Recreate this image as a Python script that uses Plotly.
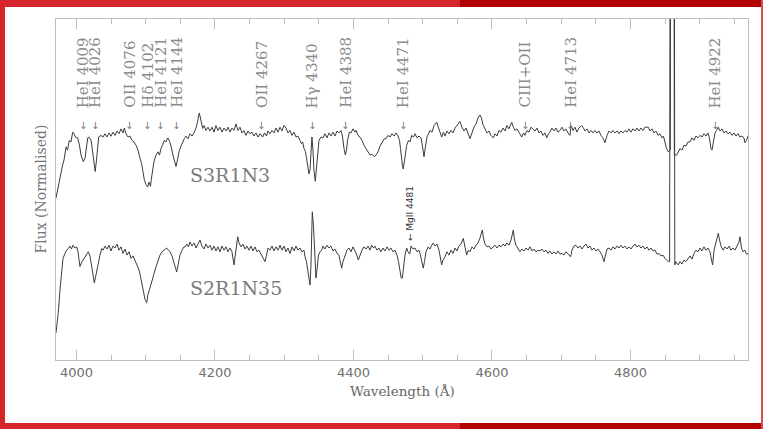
import plotly.graph_objects as go

# ---------------- data ----------------
UPPER_OFFSET = 0.72

upper_wl = [
    3970.4, 3973.3, 3976.2, 3980, 3982, 3985, 3987, 3989.6, 3992, 3994.5,
    3996.4, 3998.5, 4001.7, 4004.3, 4006.5, 4009.8, 4012.3, 4014.4, 4016.2, 4018,
    4021, 4023, 4025.3, 4027, 4028.9, 4030.6, 4032, 4035.4, 4038.3, 4041.2,
    4044, 4047, 4049.8, 4052.7, 4055.6, 4058.5, 4061.4, 4064.3, 4067.2, 4069,
    4071.5, 4074.4, 4077.3, 4080.1, 4083, 4086, 4088.8, 4091.7, 4093.9, 4096,
    4097.9, 4100.4, 4102.8, 4104.7, 4106.9, 4108.3, 4110, 4111.9, 4114.8, 4117.7,
    4119.9, 4122, 4124.2, 4126.8, 4129.2, 4131.7, 4134.3, 4136.5, 4139.3, 4142.2,
    4143.7, 4145.8, 4148, 4150.9, 4153.8, 4155.7, 4158.1, 4161, 4163.9, 4166.8,
    4170.1, 4172.6, 4174.7, 4177.3, 4179, 4180.5, 4182.2, 4184.1, 4187, 4189.9,
    4192.8, 4195.7, 4198.6, 4201.4, 4204.3, 4207.2, 4210.1, 4213, 4215.9, 4218.8,
    4221.7, 4224.5, 4227.4, 4230.3, 4233.2, 4236.1, 4239, 4241.9, 4244.8, 4247.6,
    4250.5, 4253.4, 4256.3, 4259.2, 4262.1, 4265, 4268.9, 4271.5, 4274.4, 4276.5,
    4279.4, 4282.3, 4285.2, 4288.1, 4291, 4293.9, 4296.7, 4299.6, 4302.5, 4305.4,
    4308.3, 4311.2, 4314.1, 4317, 4319.8, 4322.7, 4324.9, 4326.6, 4328.5, 4330.7,
    4332.8, 4334.3, 4335.7, 4337.2, 4338.6, 4340, 4341.5, 4342.9, 4344.8, 4346.3,
    4348, 4350.2, 4353.1, 4356, 4358.8, 4361.7, 4364.6, 4367.5, 4370.4, 4373.3,
    4376.2, 4379, 4381.9, 4384.1, 4386.3, 4388.2, 4389.9, 4391.4, 4394, 4396.4,
    4399.3, 4402.2, 4403.7, 4406.5, 4409.4, 4412.3, 4415.2, 4418.1, 4421, 4423.8,
    4426.7, 4430, 4432.5, 4435.4, 4438.3, 4441.1, 4444.5, 4446.9, 4449.8, 4452.7,
    4455.6, 4458.5, 4461.4, 4464.3, 4466.4, 4467.9, 4469.3, 4470.8, 4471.9, 4473.7,
    4475.1, 4476.8, 4479.4, 4481.6, 4484, 4486.6, 4488.8, 4491.7, 4494.6, 4497.5,
    4499.6, 4501.8, 4504, 4506.1, 4509, 4510.5, 4513.4, 4516.3, 4520.1, 4522.7,
    4524.9, 4527.3, 4529.9, 4532.1, 4535, 4537.9, 4540.8, 4543.7, 4546.6, 4549.4,
    4552.3, 4553.8, 4556.7, 4559.6, 4562.5, 4565.4, 4568.2, 4571.1, 4574, 4576.9,
    4579.8, 4582.7, 4584.8, 4587, 4589.9, 4592.8, 4595.7, 4598.5, 4601.9, 4604.3,
    4607.2, 4610.1, 4613, 4615.9, 4618.8, 4621.6, 4624.5, 4628.4, 4631, 4633.2,
    4636.1, 4639, 4642.9, 4645.5, 4647.6, 4650.5, 4653.4, 4656.3, 4659.6, 4662.1,
    4665, 4667.9, 4670.7, 4673.6, 4676.5, 4679, 4681.6, 4683.7, 4686.6, 4689.5,
    4692.4, 4695.3, 4698.2, 4701.1, 4703.9, 4706.8, 4709.7, 4712.6, 4714, 4716.9,
    4719.8, 4722.7, 4725.5, 4729.5, 4732.1, 4734.3, 4737.2, 4740.1, 4742.9, 4745.8,
    4748.7, 4751.6, 4754.5, 4757.4, 4760.3, 4763.2, 4766.1, 4769, 4771.8, 4774.7,
    4777.6, 4780.5, 4783.4, 4786.3, 4789.1, 4792, 4794.9, 4797.8, 4800.7, 4803.6,
    4806.5, 4809.4, 4812.2, 4815.1, 4818, 4820.9, 4825.7, 4828.1, 4831, 4833.9,
    4836.8, 4839.7, 4842.6, 4845.5, 4847.6, 4849.8, 4852, 4854.5, 4856.3, 4857.5,
    4860.4, 4863.3, 4866.7, 4868.6, 4871.5, 4874.4, 4877.2, 4880.1, 4883, 4885.9,
    4888.8, 4891.7, 4894.6, 4897.4, 4900.3, 4903.2, 4906.1, 4909, 4911.9, 4914,
    4916.2, 4917.7, 4919.8, 4922, 4924.2, 4926.8, 4929.2, 4932.1, 4935, 4937.9,
    4940.8, 4943.7, 4946.5, 4949.4, 4952.3, 4955.2, 4958.1, 4961, 4963.9, 4965.3,
    4967.5, 4970,
]
upper_flux = [
    0.588, 0.65, 0.73, 0.79, 0.82, 0.90, 0.88, 0.94, 0.93, 0.99,
    0.98, 0.96, 0.955, 0.91, 0.85, 0.81, 0.83, 0.91, 0.955, 0.96,
    0.94, 0.88, 0.79, 0.75, 0.82, 0.91, 0.96, 0.97, 0.96, 0.98,
    0.96, 0.985, 0.965, 0.99, 0.97, 0.997, 0.98, 1.01, 0.985, 1.015,
    0.98, 0.96, 0.966, 0.94, 0.93, 0.91, 0.88, 0.83, 0.80, 0.75,
    0.70, 0.67, 0.655, 0.685, 0.66, 0.71, 0.76, 0.81, 0.85, 0.87,
    0.85, 0.89, 0.91, 0.94, 0.93, 0.955, 0.935, 0.905, 0.85, 0.80,
    0.78, 0.82, 0.87, 0.905, 0.94, 0.95, 0.966, 0.95, 0.98, 0.966,
    0.99, 1.015, 1.05, 1.107, 1.076, 1.04, 1.013, 1.03, 1.0, 1.02,
    0.997, 1.02, 0.99, 1.03, 1.0, 1.02, 0.99, 1.015, 0.997, 1.02,
    0.99, 1.015, 1.0, 1.04, 1.0, 1.02, 0.985, 1.0, 0.97, 0.997,
    0.98, 0.99, 0.966, 0.985, 0.96, 0.98, 0.96, 0.985, 0.966, 0.997,
    0.98, 1.0, 0.985, 1.015, 0.99, 1.02, 0.997, 1.03, 1.015, 0.985,
    1.0, 0.97, 0.99, 0.96, 0.966, 0.94, 0.92, 0.93, 0.89, 0.87,
    0.82, 0.77, 0.735, 0.76, 0.88, 0.96, 0.88, 0.76, 0.69, 0.76,
    0.88, 0.94, 0.96, 0.955, 0.98, 0.955, 0.985, 0.966, 0.99, 0.966,
    0.997, 0.985, 1.0, 0.966, 0.89, 0.85, 0.88, 0.94, 0.99, 0.985,
    1.01, 0.99, 1.0, 0.97, 0.96, 0.94, 0.91, 0.89, 0.875, 0.85,
    0.855, 0.84, 0.85, 0.87, 0.905, 0.93, 0.95, 0.95, 0.97, 0.96,
    0.98, 0.966, 0.985, 0.966, 0.94, 0.89, 0.82, 0.78, 0.765, 0.81,
    0.87, 0.91, 0.94, 0.93, 0.97, 0.96, 0.98, 0.955, 0.966, 0.955,
    0.905, 0.84, 0.905, 0.96, 0.985, 1.0, 0.99, 1.03, 1.05, 1.015,
    0.985, 0.96, 0.99, 0.966, 0.997, 0.98, 1.0, 0.985, 1.015, 1.03,
    1.045, 1.055, 1.02, 0.997, 1.015, 0.98, 0.95, 0.985, 1.02, 1.04,
    1.076, 1.095, 1.076, 1.035, 1.01, 0.985, 0.997, 0.97, 0.955, 0.98,
    0.966, 1.0, 0.99, 1.015, 0.997, 1.03, 1.01, 1.05, 1.02, 1.0,
    1.01, 0.985, 0.96, 0.985, 0.97, 1.0, 0.99, 1.02, 1.01, 0.997,
    1.015, 0.985, 0.997, 0.97, 0.985, 0.955, 0.98, 0.99, 1.015, 0.997,
    1.015, 0.99, 1.0, 1.02, 0.997, 1.01, 0.985, 0.97, 1.03, 1.0,
    1.02, 0.99, 1.015, 1.03, 1.015, 0.997, 1.01, 0.985, 1.0, 0.985,
    1.0, 0.985, 0.997, 0.97, 0.955, 0.925, 0.97, 0.997, 0.985, 1.0,
    0.985, 0.997, 0.98, 0.997, 0.985, 1.0, 0.99, 1.01, 0.99, 1.01,
    0.997, 1.015, 0.997, 1.015, 1.0, 1.02, 1.02, 0.997, 1.01, 0.985,
    0.997, 0.97, 0.98, 0.955, 0.966, 0.93, 0.89, 0.87, 0.88, 0.88,
    12.0, 0.85, 0.85, 0.87, 0.89, 0.88, 0.91, 0.905, 0.93, 0.93,
    0.955, 0.94, 0.966, 0.955, 0.97, 0.96, 0.98, 0.966, 0.985, 0.955,
    0.89, 0.88, 0.94, 0.985, 1.0, 1.02, 0.997, 1.01, 0.985, 0.997,
    0.98, 0.99, 0.97, 0.985, 0.966, 0.98, 0.96, 0.966, 0.955, 0.925,
    0.94, 0.97,
]

lower_wl = [
    3970.4, 3971.8, 3973.7, 3976.2, 3978.6, 3980.5, 3983.4, 3985.6, 3988.2, 3990.6,
    3992.8, 3994.9, 3997.8, 4000.3, 4002.2, 4005, 4007.9, 4010.8, 4013.7, 4017,
    4019.5, 4021.7, 4023.8, 4025.7, 4028.2, 4031, 4033.9, 4036.4, 4038.3, 4041.2,
    4044, 4047, 4049.8, 4052.7, 4055.6, 4058.5, 4061.4, 4064.3, 4067.2, 4070.1,
    4073, 4075.8, 4078.7, 4081.6, 4084.5, 4087.4, 4090.3, 4092.4, 4094.6, 4096.7,
    4098.9, 4101.4, 4103.2, 4105.4, 4107.6, 4110.9, 4113.4, 4115.5, 4118.1, 4120.6,
    4123.5, 4126.4, 4130.2, 4132.8, 4135, 4137.9, 4140.8, 4143, 4144.7, 4146.6,
    4149.5, 4152.3, 4155.2, 4156.7, 4159.6, 4161.7, 4163.9, 4166.8, 4169.7, 4172.6,
    4175.4, 4178.3, 4181.2, 4184.1, 4187, 4189.9, 4192.8, 4195.7, 4198.6, 4201.4,
    4204.3, 4207.2, 4210.1, 4213, 4215.9, 4218.8, 4221.7, 4224.5, 4227.4, 4229.6,
    4232.8, 4234.7, 4237.5, 4240.4, 4243.3, 4246.2, 4249.1, 4252, 4254.9, 4257.8,
    4260.6, 4263.5, 4266.4, 4269.3, 4272.2, 4274.4, 4276.5, 4279.4, 4282.3, 4285.2,
    4288.1, 4291, 4293.9, 4296.7, 4299.6, 4302.5, 4305.4, 4308.3, 4311.2, 4314.1,
    4317, 4319.8, 4322.7, 4325.6, 4328.5, 4330, 4332.1, 4334.3, 4335.7, 4337.2,
    4338.6, 4340.5, 4342.2, 4343.7, 4345.1, 4345.8, 4347.3, 4349.5, 4351.6, 4354.1,
    4356, 4358.8, 4361.7, 4364.6, 4367.5, 4370.4, 4373.3, 4376.2, 4379, 4381.2,
    4382.9, 4384.8, 4387.7, 4390.6, 4393.5, 4396.4, 4399.3, 4402.2, 4404.3, 4406.9,
    4409.4, 4412.3, 4415.2, 4418.1, 4421, 4423.8, 4426.3, 4428.9, 4431, 4433.9,
    4436.8, 4439.7, 4442.6, 4445.5, 4448.4, 4451.3, 4454.1, 4457, 4459.9, 4462.8,
    4465, 4467.1, 4468.9, 4470.5, 4472.2, 4474.4, 4476.8, 4478.7, 4481.3, 4483,
    4485.9, 4488.8, 4491.7, 4494.6, 4496.7, 4498.9, 4500.8, 4502.5, 4504.7, 4508,
    4510.5, 4512.9, 4515.2, 4517.7, 4520.6, 4523.5, 4525.6, 4527.3, 4529.2, 4532.1,
    4535, 4537.9, 4540.8, 4543.7, 4546.6, 4549.4, 4552.3, 4555.2, 4558.5, 4561,
    4563.4, 4566, 4568.2, 4571.1, 4574, 4576.9, 4579.8, 4582.7, 4586, 4587.7,
    4589.9, 4592.8, 4595.7, 4598.5, 4601.4, 4604.3, 4607.2, 4610.1, 4613, 4615.9,
    4618.8, 4621.6, 4624.5, 4627.5, 4630.8, 4632.5, 4634.7, 4637.6, 4640.4, 4643.3,
    4646.2, 4649.1, 4652, 4654.9, 4657.8, 4660.6, 4663.5, 4666.4, 4669.3, 4672.2,
    4675.1, 4678, 4680.9, 4683.7, 4686.6, 4689.5, 4692.4, 4695.3, 4698.2, 4701.1,
    4703.9, 4706.8, 4710.4, 4713.6, 4715.5, 4718.4, 4721.3, 4724.2, 4727.1, 4730,
    4732.8, 4735.7, 4738.6, 4741.5, 4744.4, 4747.3, 4750.2, 4753, 4755.9, 4758.8,
    4761.7, 4763.9, 4766.1, 4769, 4771.8, 4774.7, 4777.6, 4780.5, 4783.4, 4786.3,
    4789.1, 4792, 4794.9, 4797.8, 4800.7, 4803.6, 4806.5, 4809.4, 4812.2, 4815.1,
    4818, 4820.9, 4823.8, 4826.7, 4829.6, 4832.5, 4835.4, 4838.3, 4841.1, 4844,
    4846.9, 4849.8, 4852.7, 4854.5, 4856.5, 4860.4, 4864, 4865.3, 4868.9, 4871.5,
    4874.4, 4877.2, 4880.1, 4883, 4885.9, 4888.8, 4891.7, 4894.6, 4897.4, 4900.3,
    4903.2, 4906.1, 4909, 4911.9, 4914.8, 4917, 4918.7, 4920.6, 4923.5, 4926.8,
    4928.6, 4930.7, 4933.6, 4936.5, 4939.4, 4942.3, 4945.1, 4948, 4950.9, 4953.8,
    4956.7, 4958.1, 4960.3, 4962.5, 4965.3, 4967.5, 4970,
]
lower_flux = [
    0.485, 0.53, 0.61, 0.75, 0.89, 0.94, 0.97, 0.99, 1.0, 1.015,
    0.997, 1.02, 1.003, 1.01, 0.98, 0.89, 0.92, 0.94, 0.96, 0.98,
    0.955, 0.90, 0.83, 0.79, 0.84, 0.91, 0.96, 1.0, 0.99, 1.015,
    0.997, 1.02, 0.985, 1.015, 1.003, 1.027, 0.99, 1.01, 0.97, 0.997,
    0.96, 0.98, 0.94, 0.955, 0.93, 0.905, 0.87, 0.83, 0.78, 0.73,
    0.69, 0.67, 0.72, 0.75, 0.79, 0.83, 0.87, 0.905, 0.93, 0.96,
    0.98, 0.99, 1.003, 0.99, 0.98, 0.955, 0.92, 0.88, 0.857, 0.90,
    0.96, 0.99, 1.01, 1.01, 1.027, 1.01, 1.04, 1.015, 1.034, 1.003,
    1.027, 1.052, 1.015, 0.997, 1.027, 1.003, 1.02, 0.99, 1.015, 0.985,
    1.01, 0.98, 1.015, 0.99, 1.01, 0.98, 1.003, 0.98, 0.90, 0.98,
    1.072, 1.034, 1.01, 1.027, 0.997, 1.015, 0.99, 1.015, 0.985, 1.01,
    0.98, 0.99, 0.966, 0.94, 0.92, 0.96, 1.003, 0.99, 1.015, 0.985,
    1.01, 0.99, 1.02, 0.99, 1.015, 0.98, 1.003, 0.97, 1.01, 0.985,
    1.015, 0.99, 1.003, 0.98, 0.99, 0.95, 0.92, 0.857, 0.81, 0.777,
    0.90, 1.224, 1.14, 0.96, 0.84, 0.82, 0.87, 0.96, 0.98, 0.99,
    1.015, 0.997, 1.02, 1.003, 1.015, 0.985, 0.997, 0.97, 0.96, 0.92,
    0.88, 0.92, 0.96, 0.99, 1.003, 0.98, 1.01, 0.985, 0.966, 0.93,
    0.96, 0.99, 1.01, 0.997, 1.015, 0.99, 1.02, 1.003, 1.015, 0.99,
    1.003, 0.98, 1.003, 0.985, 1.01, 0.99, 1.003, 0.98, 0.99, 0.96,
    0.92, 0.857, 0.82, 0.82, 0.88, 0.96, 1.003, 0.98, 0.966, 1.015,
    0.997, 1.003, 0.98, 0.99, 0.96, 0.92, 0.88, 0.92, 0.98, 1.01,
    0.997, 1.02, 1.034, 1.015, 1.027, 0.99, 0.94, 0.90, 0.93, 0.95,
    0.98, 0.96, 0.99, 0.97, 1.003, 0.985, 1.015, 1.027, 1.062, 1.015,
    0.96, 0.99, 0.98, 1.01, 0.997, 1.02, 1.034, 1.064, 1.113, 1.064,
    1.027, 1.01, 1.015, 0.997, 1.01, 1.02, 1.003, 1.02, 1.01, 1.027,
    1.015, 1.034, 1.02, 1.052, 1.113, 1.052, 1.02, 1.003, 0.98, 0.997,
    0.985, 1.003, 0.99, 1.01, 0.985, 0.997, 0.98, 0.99, 0.985, 0.997,
    0.98, 0.99, 0.97, 0.985, 0.966, 0.98, 0.966, 0.985, 0.966, 0.97,
    0.96, 0.98, 0.966, 0.95, 0.99, 1.015, 1.02, 1.003, 1.015, 0.997,
    1.015, 1.027, 1.003, 1.015, 0.99, 1.003, 0.985, 0.997, 0.98, 0.96,
    0.92, 0.966, 0.997, 1.003, 0.99, 1.01, 0.997, 1.015, 1.003, 1.02,
    1.003, 1.015, 0.997, 1.01, 0.997, 1.015, 1.027, 1.01, 1.02, 1.003,
    1.015, 0.997, 1.01, 0.99, 1.003, 0.985, 0.99, 0.966, 0.97, 0.955,
    0.96, 0.94, 0.93, 0.92, 0.92, 12.0, 0.90, 0.92, 0.90, 0.92,
    0.905, 0.93, 0.92, 0.94, 0.955, 0.935, 0.97, 0.99, 0.98, 1.003,
    0.985, 1.01, 0.99, 1.003, 0.98, 0.93, 0.90, 0.99, 1.04, 1.093,
    1.052, 1.015, 0.99, 1.01, 0.997, 1.015, 0.99, 1.003, 0.99, 1.02,
    1.04, 1.072, 1.003, 0.98, 0.99, 0.966, 0.97,
]

line_labels = ["HeI 4009", "HeI 4026", "OII 4076", "Hδ 4102", "HeI 4121",
               "HeI 4144", "OII 4267", "Hγ 4340", "HeI 4388", "HeI 4471",
               "CIII+OII", "HeI 4713", "HeI 4922"]
line_wl = [4009, 4026, 4076, 4102, 4121, 4144, 4267, 4340, 4388, 4471,
           4647, 4713, 4922]

star_names = ["S3R1N3", "S2R1N35"]
mg_label = "← MgII 4481"
mg_wl = 4481

# ---------------- figure ----------------
fig = go.Figure()
fig.add_trace(go.Scatter(
    x=upper_wl, y=[f + UPPER_OFFSET for f in upper_flux], mode="lines",
    line=dict(color="#3c3c3c", width=1), hoverinfo="skip", showlegend=False))
fig.add_trace(go.Scatter(
    x=lower_wl, y=lower_flux, mode="lines",
    line=dict(color="#3c3c3c", width=1), hoverinfo="skip", showlegend=False))

frame = "#bdbdbd"
ann = []
for lab, wl in zip(line_labels, line_wl):
    ann.append(dict(x=wl, xref="x", y=0.736, yref="paper", text=lab,
                    textangle=-90, xanchor="center", yanchor="bottom",
                    showarrow=False, borderpad=0,
                    font=dict(family="DejaVu Serif", size=15, color="#8a8a8a")))
    ann.append(dict(x=wl, xref="x", y=0.688, yref="paper", text="↓",
                    xanchor="center", yanchor="middle", showarrow=False,
                    borderpad=0,
                    font=dict(family="DejaVu Sans", size=10, color="#777777")))

ann.append(dict(x=mg_wl, xref="x", y=0.346, yref="paper", text=mg_label,
                textangle=-90, xanchor="center", yanchor="bottom",
                showarrow=False, borderpad=0,
                font=dict(family="DejaVu Sans", size=9, color="#333333")))

ann.append(dict(x=4161, xref="x", y=0.5425, yref="paper", text=star_names[0],
                xanchor="left", yanchor="middle", showarrow=False,
                font=dict(family="DejaVu Serif", size=19, color="#7a7a7a")))
ann.append(dict(x=4161, xref="x", y=0.211, yref="paper", text=star_names[1],
                xanchor="left", yanchor="middle", showarrow=False,
                font=dict(family="DejaVu Serif", size=19, color="#7a7a7a")))

ann.append(dict(x=0.5, xref="paper", y=-0.0909, yref="paper",
                text="Wavelength (Å)", xanchor="center", yanchor="middle",
                showarrow=False,
                font=dict(family="DejaVu Serif", size=13.5, color="#666666")))
ann.append(dict(x=-0.0231, xref="paper", y=0.5, yref="paper",
                text="Flux (Normalised)", textangle=-90, xanchor="center",
                yanchor="middle", showarrow=False,
                font=dict(family="DejaVu Serif", size=14, color="#777777")))

# red picture frame
def rect(x0, x1, y0, y1, color):
    return dict(type="rect", xref="paper", yref="paper", x0=x0, x1=x1,
                y0=y0, y1=y1, fillcolor=color, line=dict(width=0),
                layer="above")

def px(v):
    return (v - 56) / 692.0

def py(v):
    return (360 - v) / 341.0

light = "#d5262b"
dark = "#b30003"
shapes = [
    rect(px(0), px(460), py(7), py(0), light),
    rect(px(460), px(763), py(7), py(0), dark),
    rect(px(0), px(460), py(429), py(423), light),
    rect(px(460), px(763), py(429), py(423), dark),
    rect(px(0), px(5), py(429), py(0), light),
    rect(px(761), px(763), py(429), py(0), "#dc4a4a"),
]

fig.update_layout(
    width=763, height=429,
    margin=dict(l=56, r=15, t=19, b=69),
    paper_bgcolor="white", plot_bgcolor="white",
    annotations=ann, shapes=shapes,
    xaxis=dict(range=[3970.4, 4969.7], tickmode="linear", tick0=4000,
               dtick=200, ticks="inside", ticklen=10, tickcolor=frame,
               tickwidth=1, showline=True, linecolor=frame, linewidth=1,
               mirror="ticks", showgrid=False, zeroline=False,
               tickfont=dict(family="DejaVu Sans", size=13, color="#707070"),
               minor=dict(dtick=50, tick0=4000, ticks="inside", ticklen=5,
                          tickcolor=frame, showgrid=False)),
    yaxis=dict(range=[0.32, 2.40], showline=True, linecolor=frame,
               linewidth=1, mirror=True, ticks="", showticklabels=False,
               showgrid=False, zeroline=False),
)

fig.write_html("out.html")
